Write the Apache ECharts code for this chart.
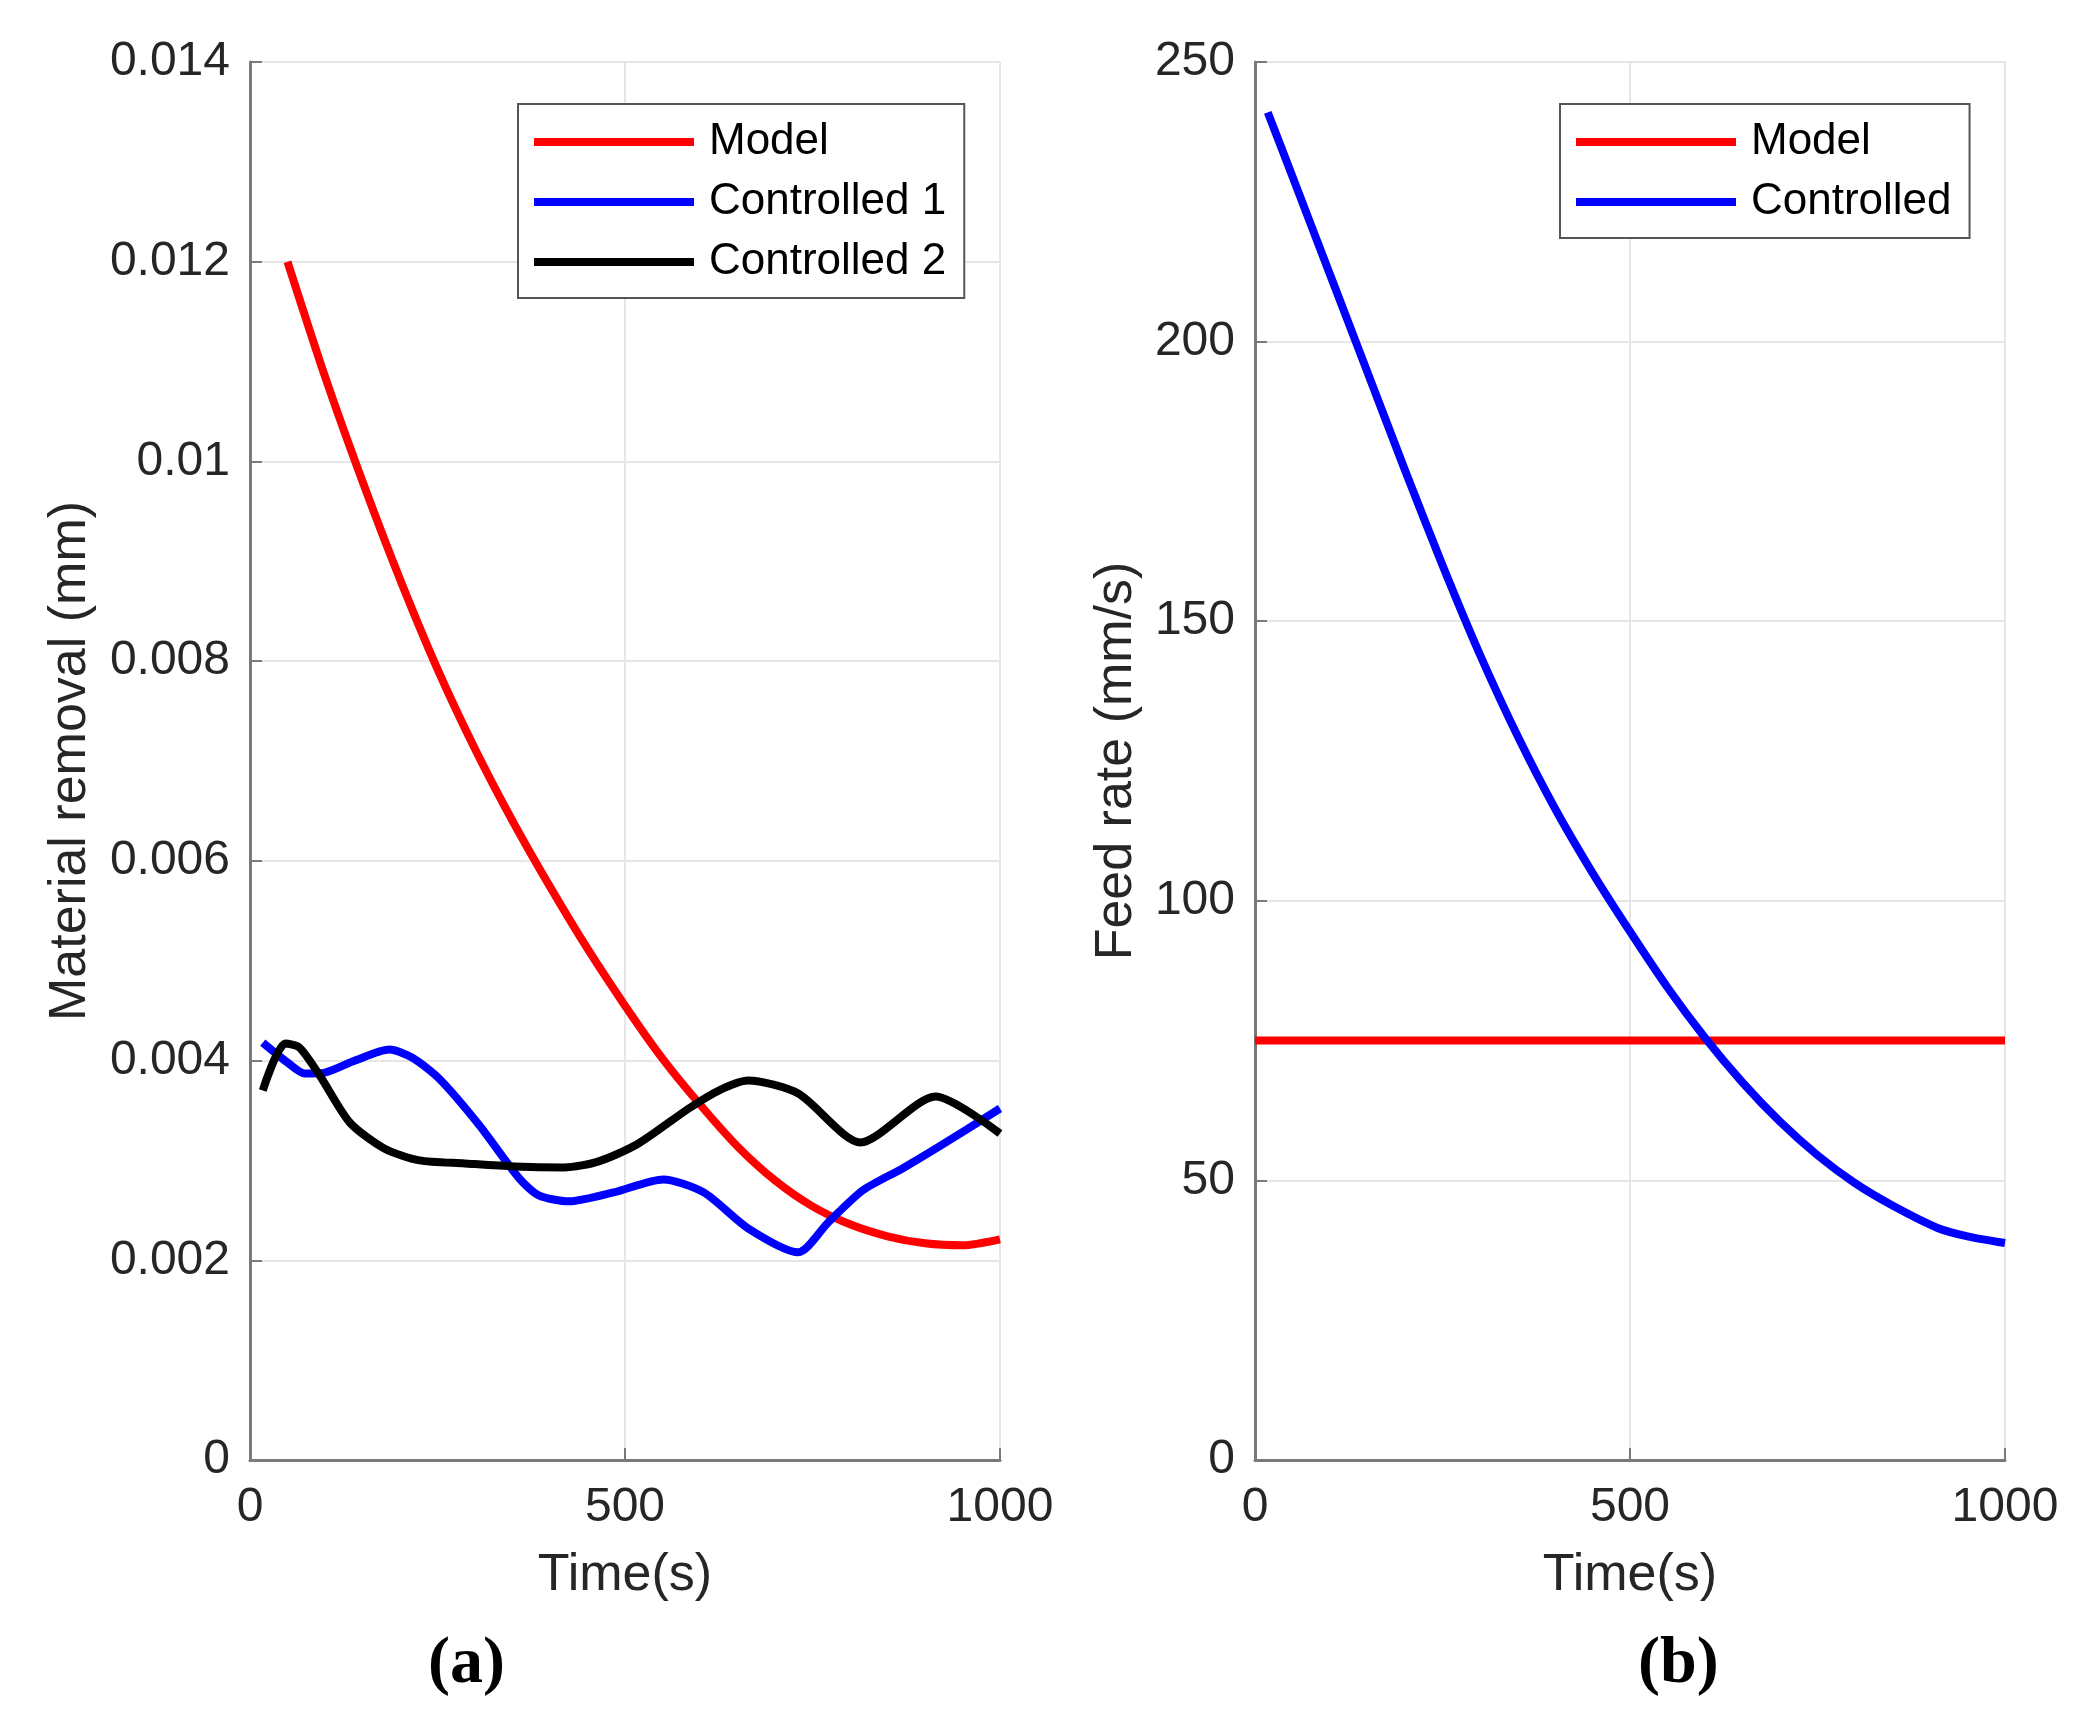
<!DOCTYPE html>
<html>
<head>
<meta charset="utf-8">
<script src="https://cdn.jsdelivr.net/npm/echarts@6/dist/echarts.min.js"></script>
<style>
  html, body { margin: 0; padding: 0; background: #fff; }
  #chart { width: 2084px; height: 1720px; }
</style>
</head>
<body>
<div id="chart"></div>
<script>
// (a) material removal
var modelTime = [50, 100, 150, 200, 250, 300, 350, 400, 450, 500, 550, 600, 650, 700, 750, 800, 850, 900, 950, 1000];
var modelRemoval = [0.0120, 0.01085, 0.00980, 0.00882, 0.00792, 0.00712, 0.00640, 0.00574, 0.00512, 0.00455, 0.00402, 0.00356, 0.00314, 0.00280, 0.00254, 0.00236, 0.00224, 0.00217, 0.00215, 0.00221];

var ctrl1Time = [17, 50, 73, 100, 140, 186, 216, 252, 306, 359, 385, 425, 485, 551, 605, 664, 731, 771, 817, 870, 917, 1000];
var ctrl1Removal = [0.00418, 0.00398, 0.00387, 0.00388, 0.00400, 0.00411, 0.00403, 0.00382, 0.00335, 0.00282, 0.00265, 0.00259, 0.00268, 0.00281, 0.00268, 0.00232, 0.00208, 0.00238, 0.00270, 0.00292, 0.00313, 0.00352];

var ctrl2Time = [17, 47, 66, 93, 133, 179, 226, 286, 352, 419, 465, 518, 585, 625, 664, 731, 814, 914, 1000];
var ctrl2Removal = [0.00370, 0.00417, 0.00413, 0.00385, 0.00338, 0.00312, 0.00300, 0.00297, 0.00294, 0.00293, 0.00299, 0.00317, 0.00352, 0.00370, 0.00380, 0.00367, 0.00318, 0.00364, 0.00327];

// (b) feed rate
var feedModelTime = [0, 1000];
var feedModel = [75, 75];
var feedTime = [17, 50, 100, 150, 200, 250, 300, 350, 400, 450, 500, 550, 600, 650, 700, 750, 800, 850, 910, 950, 1000];
var feedCtrl = [241, 229.5, 212, 194.5, 177, 160, 144, 129.5, 116.5, 105, 94.5, 84.5, 75.5, 67.5, 60.5, 54.5, 49.5, 45.5, 41.5, 40, 38.8];

var timeTicks = [0, 1000, 500];      // min, max, interval
var removalTicks = [0, 0.014, 0.002];
var feedTicks = [0, 250, 50];

function pairs(xs, ys) {
    var out = [];
    for (var i = 0; i < xs.length; i++) out.push([xs[i], ys[i]]);
    return out;
}

var font = 'Liberation Sans';
var axisGray = '#7a7a7a';
var textGray = '#262626';

function xAx(idx) {
    return {
        type: 'value', gridIndex: idx,
        min: timeTicks[0], max: timeTicks[1], interval: timeTicks[2],
        name: 'Time(s)', nameLocation: 'middle', nameGap: 90,
        nameTextStyle: { fontFamily: font, fontSize: 52, color: textGray },
        axisLine: { show: true, onZero: false, lineStyle: { color: axisGray, width: 3 } },
        axisTick: { show: true, inside: true, length: 12, lineStyle: { color: axisGray, width: 2 } },
        axisLabel: { fontFamily: font, fontSize: 48, color: textGray, margin: 24, formatter: function (v) { return String(v); } },
        splitLine: { show: true, lineStyle: { color: '#e6e6e6', width: 2 } }
    };
}

function yAx(idx, ticks, name, gap, fmt) {
    return {
        type: 'value', gridIndex: idx,
        min: ticks[0], max: ticks[1], interval: ticks[2],
        name: name, nameLocation: 'middle', nameGap: gap,
        nameTextStyle: { fontFamily: font, fontSize: 52, color: textGray },
        axisLine: { show: true, onZero: false, lineStyle: { color: axisGray, width: 3 } },
        axisTick: { show: true, inside: true, length: 12, lineStyle: { color: axisGray, width: 2 } },
        axisLabel: { fontFamily: font, fontSize: 48, color: textGray, margin: 20, formatter: fmt },
        splitLine: { show: true, lineStyle: { color: '#e6e6e6', width: 2 } }
    };
}

function line(name, xi, data, color) {
    return {
        name: name, type: 'line', xAxisIndex: xi, yAxisIndex: xi,
        data: data, showSymbol: false, smooth: 0.25,
        lineStyle: { color: color, width: 8 }, itemStyle: { color: color },
        animation: false
    };
}

function legend(names, box) {
    return {
        data: names, orient: 'vertical',
        left: box[0], top: box[1],
        padding: [16, 18, 14, 16],
        backgroundColor: '#fff',
        borderColor: '#555', borderWidth: 2, borderRadius: 0,
        icon: 'rect', itemWidth: 160, itemHeight: 8, itemGap: 16,
        textStyle: { fontFamily: font, fontSize: 44, color: '#000', lineHeight: 44, padding: [0, 0, 0, 10] }
    };
}

var myChart = echarts.init(document.getElementById('chart'), null, { renderer: 'canvas' });

var option = {
    animation: false,
    grid: [
        { left: 250, top: 62, width: 750, height: 1398 },
        { left: 1255, top: 62, width: 750, height: 1398 }
    ],
    xAxis: [xAx(0), xAx(1)],
    yAxis: [
        yAx(0, removalTicks, 'Material removal (mm)', 153, function (v) { return String(+v.toFixed(3)); }),
        yAx(1, feedTicks, 'Feed rate (mm/s)', 112, null)
    ],
    legend: [
        legend(['Model', 'Controlled 1', 'Controlled 2'], [518, 104]),
        legend(['Model', 'Controlled'], [1560, 104])
    ],
    series: [
        line('Model', 0, pairs(modelTime, modelRemoval), '#ff0000'),
        line('Controlled 1', 0, pairs(ctrl1Time, ctrl1Removal), '#0000ff'),
        line('Controlled 2', 0, pairs(ctrl2Time, ctrl2Removal), '#000000'),
        line('Model', 1, pairs(feedModelTime, feedModel), '#ff0000'),
        line('Controlled', 1, pairs(feedTime, feedCtrl), '#0000ff')
    ],
    graphic: [
        { type: 'text', left: 428, top: 1632, style: { text: '(a)', font: 'bold 66px "Liberation Serif"', fill: '#000' } },
        { type: 'text', left: 1638, top: 1632, style: { text: '(b)', font: 'bold 66px "Liberation Serif"', fill: '#000' } }
    ]
};

myChart.setOption(option);
</script>
</body>
</html>
